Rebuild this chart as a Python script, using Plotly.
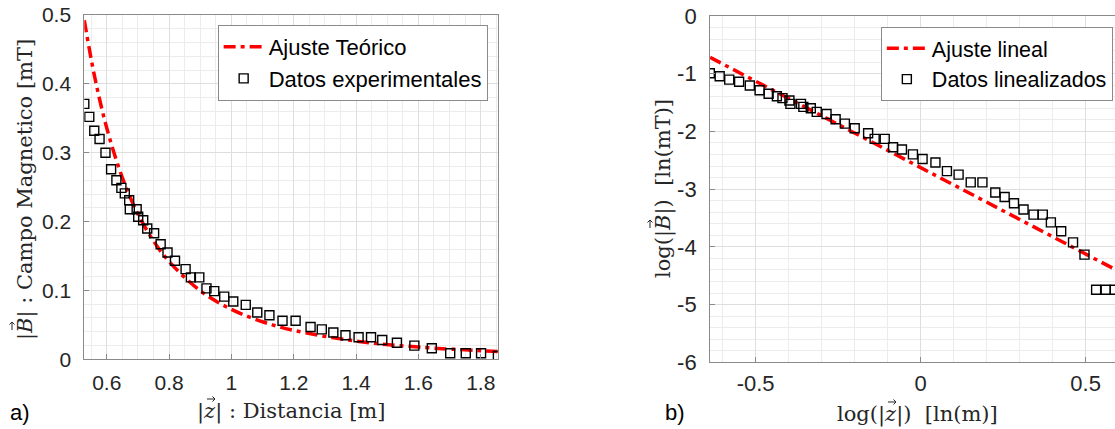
import numpy as np
import plotly.graph_objects as go

z_data = [0.528, 0.544, 0.560, 0.577, 0.596, 0.614, 0.631, 0.647, 0.658, 0.672,
          0.674, 0.696, 0.701, 0.717, 0.730, 0.752, 0.773, 0.795, 0.819, 0.853,
          0.870, 0.897, 0.920, 0.945, 0.977, 1.006, 1.046, 1.083, 1.122, 1.164,
          1.206, 1.254, 1.290, 1.327, 1.366, 1.408, 1.448, 1.484, 1.531, 1.587,
          1.643, 1.702, 1.752, 1.801, 1.855]
B_data = [0.371, 0.352, 0.332, 0.320, 0.300, 0.276, 0.260, 0.249, 0.241, 0.231,
          0.218, 0.218, 0.207, 0.202, 0.190, 0.183, 0.167, 0.155, 0.143, 0.131,
          0.119, 0.119, 0.103, 0.099, 0.091, 0.084, 0.079, 0.068, 0.064, 0.056,
          0.056, 0.047, 0.0435, 0.039, 0.035, 0.032, 0.032, 0.028, 0.024, 0.0198,
          0.016, 0.0087, 0.0087, 0.0087, 0.0048]

# theoretical fit curve
z_fit = [0.528, 0.56, 0.6, 0.65, 0.7, 0.75, 0.8, 0.9, 1.0, 1.1, 1.2, 1.4, 1.6, 1.855]
B_fit = [0.4925, 0.413, 0.336, 0.264, 0.211, 0.172, 0.142, 0.0995, 0.0725,
         0.0545, 0.042, 0.0264, 0.0177, 0.0114]

# linear fit in log space (end points)
logz_lin = [-0.638, 0.589]
logB_lin = [-0.716, -4.39]

# linearized data
logz_data = np.log(z_data)
logB_data = np.log(B_data)

right_yticks = [0, -1, -2, -3, -4, -5, -6]
right_yticktext = ["0", "-1", "-2", "-3", "-4", "-5", "-6"]
right_xticks = [-0.5, 0, 0.5]
right_xticktext = ["-0.5", "0", "0.5"]

W, H = 1115, 429
RED = "#ff0000"
DASH = "12px,5px,4px,5px"
SANS = "Liberation Sans, Arial"
SERIF = dict(family="DejaVu Serif", size=21, color="#262626")

fig = go.Figure()

fig.add_trace(go.Scatter(x=z_fit, y=B_fit, mode="lines", line_shape="spline",
                         name="Ajuste Teórico", line=dict(color=RED, width=3.5, dash=DASH),
                         xaxis="x", yaxis="y", legend="legend"))
fig.add_trace(go.Scatter(x=z_data, y=B_data, mode="markers", name="Datos experimentales",
                         marker=dict(symbol="square-open", size=9, color="black",
                                     line=dict(width=1.4, color="black")),
                         xaxis="x", yaxis="y", legend="legend"))

fig.add_trace(go.Scatter(x=logz_lin, y=logB_lin, mode="lines", name="Ajuste lineal",
                         line=dict(color=RED, width=3.5, dash=DASH),
                         xaxis="x2", yaxis="y2", legend="legend2"))
fig.add_trace(go.Scatter(x=logz_data, y=logB_data, mode="markers", name="Datos linealizados",
                         marker=dict(symbol="square-open", size=9, color="black",
                                     line=dict(width=1.4, color="black")),
                         xaxis="x2", yaxis="y2", legend="legend2"))


def axis_style(size, standoff):
    return dict(showgrid=True, gridcolor="#dedede", gridwidth=1,
                showline=True, linecolor="#8a8a8a", linewidth=1,
                ticks="inside", ticklen=5, tickcolor="#8a8a8a",
                tickfont=dict(family=SANS, size=size, color="#262626"),
                zeroline=False, ticklabelstandoff=standoff)


minor_common = dict(showgrid=True, gridcolor="#ececec", gridwidth=1, ticks="")


def legend_style(x, y, size):
    return dict(x=x, y=y, bgcolor="white", bordercolor="#8a8a8a", borderwidth=1,
                font=dict(family=SANS, size=size, color="black"),
                tracegroupgap=0, itemwidth=40, xanchor="left", yanchor="top")


fig.update_layout(
    width=W, height=H,
    margin=dict(l=0, r=0, t=0, b=0, autoexpand=False),
    paper_bgcolor="white", plot_bgcolor="white",
    xaxis=dict(domain=[0.0756, 0.4464], range=[0.528, 1.8545], dtick=0.2, tick0=0.6,
               mirror=True, minor=dict(dtick=0.05, tick0=0.6, **minor_common),
               anchor="y", **axis_style(21, 5)),
    yaxis=dict(domain=[0.1625, 0.965], range=[0, 0.5], dtick=0.1,
               mirror=True, minor=dict(dtick=0.02, **minor_common),
               anchor="x", **axis_style(21, 8)),
    xaxis2=dict(domain=[0.6368, 1.0], range=[-0.638, 0.589],
                tickvals=right_xticks, ticktext=right_xticktext,
                mirror=True, minor=dict(dtick=0.1, tick0=0, **minor_common),
                anchor="y2", **axis_style(22, 1)),
    yaxis2=dict(domain=[0.1555, 0.9627], range=[-6, 0],
                tickvals=right_yticks, ticktext=right_yticktext,
                mirror=False, minor=dict(dtick=0.2, tick0=0, **minor_common),
                anchor="x2", **axis_style(22, 8)),
    legend=legend_style(0.1952, 0.9417, 22),
    legend2=legend_style(0.790, 0.9378, 21.5),
    showlegend=True,
)

# axis titles (serif, like the LaTeX labels)
texts = [
    ("|<i>B</i>| : Campo Magnetico [mT]", 25, 190, -90, SERIF),
    ("|<i>z</i>| : Distancia [m]", 291, 411, 0, SERIF),
    ("log(|<i>B</i>|) \u00a0[ln(mT)]", 663, 189, -90, SERIF),
    ("log(|<i>z</i>|) \u00a0[ln(m)]", 917, 414, 0, SERIF),
    ("a)", 20, 412, 0, dict(family=SANS, size=22, color="black")),
    ("b)", 675, 412, 0, dict(family=SANS, size=22, color="black")),
]
for text, px, py, ang, font in texts:
    fig.add_annotation(text=text, x=px / W, y=1 - py / H,
                       xref="paper", yref="paper", showarrow=False,
                       textangle=ang, font=font,
                       xanchor="center", yanchor="middle")


# small vector accents over B and z, drawn as paths (pixel positions)
def accent(cx, cy, vertical):
    if vertical:
        pts = [[(cx, cy + 4), (cx, cy - 4)], [(cx - 2.5, cy - 1.5), (cx, cy - 4), (cx + 2.5, cy - 1.5)]]
    else:
        pts = [[(cx - 4, cy), (cx + 4, cy)], [(cx + 1.5, cy - 2.5), (cx + 4, cy), (cx + 1.5, cy + 2.5)]]
    path = ""
    for seg in pts:
        for i, (px, py) in enumerate(seg):
            path += ("M" if i == 0 else "L") + f"{px / W:.5f},{1 - py / H:.5f} "
    fig.add_shape(type="path", path=path.strip(), xref="paper", yref="paper",
                  line=dict(color="#262626", width=1))


accent(12, 326, True)
accent(211, 399, False)
accent(650, 224, True)
accent(892, 402, False)

fig.write_html("out.html", config={"displayModeBar": False},
               post_script="document.body.style.margin='0';")
